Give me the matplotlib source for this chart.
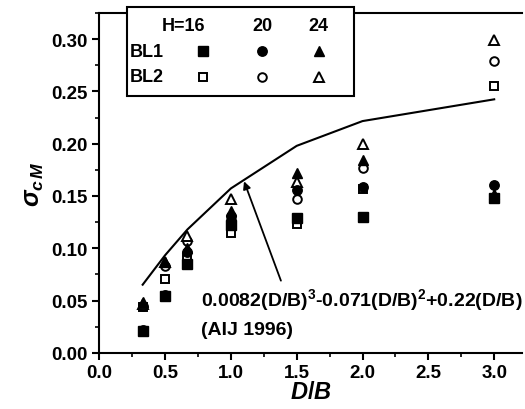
import matplotlib
matplotlib.use('Agg')
import matplotlib.pyplot as plt
from matplotlib.patches import Rectangle
from matplotlib.ticker import MultipleLocator
import numpy as np

plt.rcParams['font.family'] = ['Liberation Sans', 'DejaVu Sans']
plt.rcParams['font.weight'] = 'bold'
plt.rcParams['mathtext.fontset'] = 'custom'
plt.rcParams['mathtext.rm'] = 'Liberation Sans:bold'
plt.rcParams['mathtext.it'] = 'Liberation Sans:bold:italic'
plt.rcParams['mathtext.bf'] = 'Liberation Sans:bold'

# D/B ratios
db = [0.33, 0.5, 0.67, 1.0, 1.5, 2.0, 3.0]

# BL1 (filled markers), H = 16, 20, 24
bl1_h16 = [0.021, 0.054, 0.085, 0.122, 0.129, 0.130, 0.148]
bl1_h20 = [0.022, 0.055, 0.096, 0.131, 0.156, 0.159, 0.160]
bl1_h24 = [0.049, 0.087, 0.100, 0.136, 0.172, 0.184, 0.152]

# BL2 (open markers), H = 16, 20, 24
bl2_h16 = [0.044, 0.071, 0.090, 0.115, 0.123, 0.157, 0.255]
bl2_h20 = [0.045, 0.083, 0.107, 0.127, 0.147, 0.177, 0.279]
bl2_h24 = [0.047, 0.087, 0.112, 0.147, 0.163, 0.200, 0.299]

# AIJ 1996 formula coefficients
c3, c2, c1 = 0.0082, -0.071, 0.22

fig = plt.figure(figsize=(5.25, 4.10), dpi=100)
ax = fig.add_axes([0.189, 0.137, 0.805, 0.829])

x = np.array(db)
aij = c3 * x**3 + c2 * x**2 + c1 * x
ax.plot(x, aij, color='black', lw=1.5, zorder=2)

markers = ['s', 'o', '^']
ms_fill = [6.5, 6.8, 7.0]
ms_open = [5.6, 6.2, 6.8]
for vals, m, s in zip([bl2_h16, bl2_h20, bl2_h24], markers, ms_open):
    ax.plot(db, vals, ls='none', marker=m, ms=s, mfc='white',
            mec='black', mew=1.4, zorder=3)
for vals, m, s in zip([bl1_h16, bl1_h20, bl1_h24], markers, ms_fill):
    ax.plot(db, vals, ls='none', marker=m, ms=s, mfc='black',
            mec='black', zorder=4)

ax.annotate('', xy=(1.1, 0.164), xytext=(1.38, 0.069),
            arrowprops=dict(arrowstyle='-|>', color='black', lw=1.3,
                            mutation_scale=11, shrinkA=0, shrinkB=0))
ax.text(0.77, 0.051, r'0.0082(D/B)$^3$-0.071(D/B)$^2$+0.22(D/B)',
        fontsize=14, fontweight='bold', va='center', ha='left')
ax.text(0.77, 0.022, '(AIJ 1996)', fontsize=14, fontweight='bold',
        va='center', ha='left')

ax.set_xlim(0, 3.21)
ax.set_ylim(0, 0.325)
ax.xaxis.set_major_locator(MultipleLocator(0.5))
ax.xaxis.set_minor_locator(MultipleLocator(0.25))
ax.yaxis.set_major_locator(MultipleLocator(0.05))
ax.yaxis.set_minor_locator(MultipleLocator(0.025))
ax.xaxis.set_major_formatter(plt.FuncFormatter(lambda v, p: '%.1f' % v))
ax.yaxis.set_major_formatter(plt.FuncFormatter(lambda v, p: '%.2f' % v))
ax.tick_params(which='major', direction='out', length=5, width=1.5,
               labelsize=13.5, pad=3)
ax.tick_params(which='minor', direction='out', length=3, width=1.2)
for s in ['left', 'bottom', 'top']:
    ax.spines[s].set_linewidth(1.5)
ax.spines['right'].set_visible(False)

ax.set_xlabel('$D/B$', fontsize=17, labelpad=0)
ax.set_ylabel(r'$\sigma_{c\,M}$', fontsize=18, labelpad=4)

# legend table drawn by hand
tr = ax.transAxes
box = Rectangle((0.066, 0.756), 0.536, 0.262, transform=tr, fill=True,
                facecolor='white', edgecolor='black', lw=1.5,
                clip_on=False, zorder=5)
ax.add_patch(box)
cols = [0.246, 0.386, 0.519]
ax.text(0.20, 0.962, 'H=16', transform=tr, fontsize=13, ha='center',
        va='center', zorder=6)
ax.text(cols[1], 0.962, '20', transform=tr, fontsize=13, ha='center',
        va='center', zorder=6)
ax.text(cols[2], 0.962, '24', transform=tr, fontsize=13, ha='center',
        va='center', zorder=6)
ax.text(0.073, 0.888, 'BL1', transform=tr, fontsize=13, ha='left',
        va='center', zorder=6)
ax.text(0.073, 0.812, 'BL2', transform=tr, fontsize=13, ha='left',
        va='center', zorder=6)
for cx, m, sf, so in zip(cols, markers, ms_fill, ms_open):
    ax.plot([cx], [0.888], transform=tr, marker=m, ms=sf, mfc='black',
            mec='black', clip_on=False, zorder=7)
    ax.plot([cx], [0.812], transform=tr, marker=m, ms=so,
            mfc='white', mec='black', mew=1.4, clip_on=False, zorder=7)

fig.savefig('out.png', dpi=100)
